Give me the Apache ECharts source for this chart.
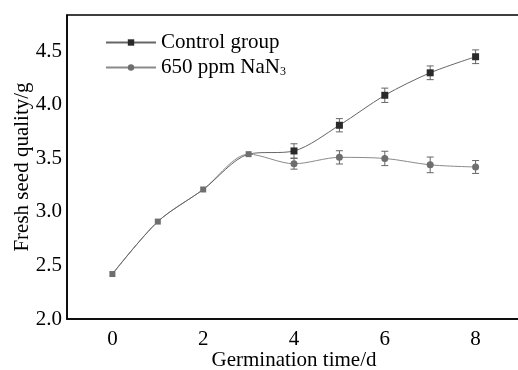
<!DOCTYPE html>
<html><head><meta charset="utf-8">
<script src="https://cdn.jsdelivr.net/npm/echarts@6/dist/echarts.min.js"></script>
<style>html,body{margin:0;padding:0;background:#fff;overflow:hidden}#c{width:526px;height:370px}</style>
</head><body><div id="c"></div>
<script>
var days = [0,1,2,3,4,5,6,7,8];
var controlVals = [2.42,2.91,3.21,3.54,3.57,3.81,4.09,4.30,4.45];
var controlErr  = [0,0,0,0,0.067,0.062,0.067,0.064,0.064];
var nanVals = [2.42,2.91,3.21,3.54,3.45,3.51,3.50,3.44,3.42];
var nanErr  = [0,0,0,0,0.05,0.062,0.067,0.073,0.06];
var yTicks = [2.0,2.5,3.0,3.5,4.0,4.5];
var xTicks = [0,2,4,6,8];

var font = '"Liberation Serif","Times New Roman",serif';
var FS = 21;
var chart = echarts.init(document.getElementById('c'));

var controlData = days.map(function(d,i){
  if (i <= 3) return {value:[d, controlVals[i]], symbolSize:6, itemStyle:{color:'#6e6e6e'}};
  return [d, controlVals[i]];
});
var nanData = days.map(function(d,i){
  if (i <= 3) return {value:[d, nanVals[i]], symbol:'none'};
  return [d, nanVals[i]];
});
function errData(vals, errs){
  var out = [];
  for (var i=0;i<days.length;i++){ if (errs[i]>0) out.push([days[i], vals[i]-errs[i], vals[i]+errs[i]]); }
  return out;
}
function renderErr(params, api){
  var x = api.value(0);
  var lo = api.coord([x, api.value(1)]);
  var hi = api.coord([x, api.value(2)]);
  var w = 3.5;
  var st = {stroke:'#666', lineWidth:1};
  return {type:'group', children:[
    {type:'line', shape:{x1:lo[0],y1:lo[1],x2:hi[0],y2:hi[1]}, style:st},
    {type:'line', shape:{x1:lo[0]-w,y1:lo[1],x2:lo[0]+w,y2:lo[1]}, style:st},
    {type:'line', shape:{x1:hi[0]-w,y1:hi[1],x2:hi[0]+w,y2:hi[1]}, style:st}
  ]};
}

chart.setOption({
  backgroundColor:'#ffffff',
  animation:false,
  grid:{left:67, right:5, top:15, bottom:51, show:true, borderColor:'#000', borderWidth:1.5, backgroundColor:'transparent',
        containLabel:false, outerBoundsMode:'none'},
  legend:{
    orient:'vertical', left:105, top:32, itemWidth:50, itemHeight:8, itemGap:4, padding:0,
    textStyle:{fontFamily:font, fontSize:FS, lineHeight:20, color:'#000',
      rich:{sub:{fontFamily:font, fontSize:12, color:'#000', verticalAlign:'bottom', padding:[12,0,0,0]}}},
    data:[{name:'Control group'},{name:'650 ppm NaN3'}],
    formatter:function(n){ return n==='650 ppm NaN3' ? '650 ppm NaN{sub|3}' : n; }
  },
  xAxis:{
    type:'value', min:-1, max:9, interval:1,
    name:'Germination time/d', nameLocation:'middle', nameGap:31, nameMoveOverlap:false,
    nameTextStyle:{fontFamily:font, fontSize:FS, color:'#000'},
    axisLine:{onZero:false, lineStyle:{color:'#000', width:1.5}},
    axisTick:{show:false}, splitLine:{show:false},
    axisLabel:{fontFamily:font, fontSize:FS, color:'#000', margin:10,
      formatter:function(v){ return xTicks.indexOf(v)>=0 ? String(v) : ''; }}
  },
  yAxis:{
    type:'value', min:2.0, max:4.84, interval:0.5,
    name:'Fresh seed quality/g', nameLocation:'middle', nameGap:34, nameMoveOverlap:false,
    nameTextStyle:{fontFamily:font, fontSize:FS, color:'#000'},
    axisLine:{onZero:false, lineStyle:{color:'#000', width:1.5}},
    axisTick:{show:false}, splitLine:{show:false},
    axisLabel:{fontFamily:font, fontSize:FS, color:'#000', margin:5, showMaxLabel:false,
      formatter:function(v){
        for (var i=0;i<yTicks.length;i++){ if (Math.abs(yTicks[i]-v)<1e-6) return yTicks[i].toFixed(1); }
        return '';
      }}
  },
  series:[
    {type:'custom', name:'errC', renderItem:renderErr, data:errData(controlVals, controlErr), z:1, silent:true},
    {type:'custom', name:'errN', renderItem:renderErr, data:errData(nanVals, nanErr), z:1, silent:true},
    {name:'650 ppm NaN3', type:'line', smooth:0.3, data:nanData, symbol:'circle', symbolSize:7,
      lineStyle:{color:'#8a8a8a', width:1}, itemStyle:{color:'#6e6e6e'}, z:3},
    {name:'Control group', type:'line', smooth:0.3, data:controlData, symbol:'rect', symbolSize:7,
      lineStyle:{color:'#666', width:1}, itemStyle:{color:'#2a2a2a'}, z:4}
  ]
});
</script></body></html>
